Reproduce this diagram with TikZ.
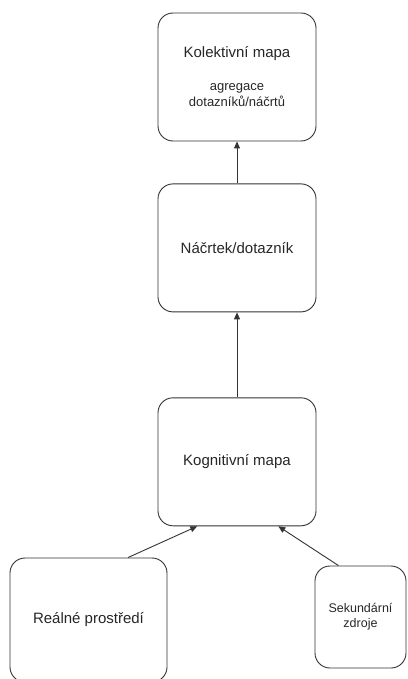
\documentclass[tikz,border=0pt]{standalone}
\usepackage{fontspec}
\setmainfont{Liberation Sans}
\usetikzlibrary{calc,arrows.meta,positioning}

\newcommand{\subtext}[1]{{\fontsize{13}{16}\selectfont #1}}

\begin{document}
\begin{tikzpicture}[x=1pt, y=-1pt,
    box/.style={draw=black!80, line width=0.9pt, rounded corners=15pt,
        minimum width=158pt, minimum height=128pt, inner sep=0pt,
        align=center, text=black!85, font=\fontsize{15}{18}\selectfont},
    link/.style={draw=black!80, line width=0.9pt,
        -{Triangle[length=7pt,width=6pt]}}]

\useasboundingbox (0,0) rectangle (407,679);
\clip (0,0) rectangle (407,679);

% main column
\node[box] (kolektivni) at (237,77)
    {Kolektivní mapa\\[15pt]\subtext{agregace}\\[-2pt]\subtext{dotazníků/náčrtů}};
\node[box, below=42pt of kolektivni] (nacrtek) {Náčrtek/dotazník};
\node[box, below=85pt of nacrtek] (kognitivni) {Kognitivní mapa};

% sources
\node[box, minimum width=157pt, minimum height=124pt] (realne) at (88.5,620) {Reálné prostředí};
\node[box, minimum width=91pt, minimum height=102pt,
    font=\fontsize{12.5}{15}\selectfont] (sekundarni) at (360.5,617) {Sekundární\\zdroje};

\draw[link] (nacrtek) -- (kolektivni);
\draw[link] (kognitivni) -- (nacrtek);
\draw[link] ($(realne.north west)!0.75!(realne.north east)$)
    -- ($(kognitivni.south west)!0.25!(kognitivni.south east)$);
\draw[link] ($(sekundarni.north west)!0.26!(sekundarni.north east)$)
    -- ($(kognitivni.south west)!0.76!(kognitivni.south east)$);
\end{tikzpicture}
\end{document}
